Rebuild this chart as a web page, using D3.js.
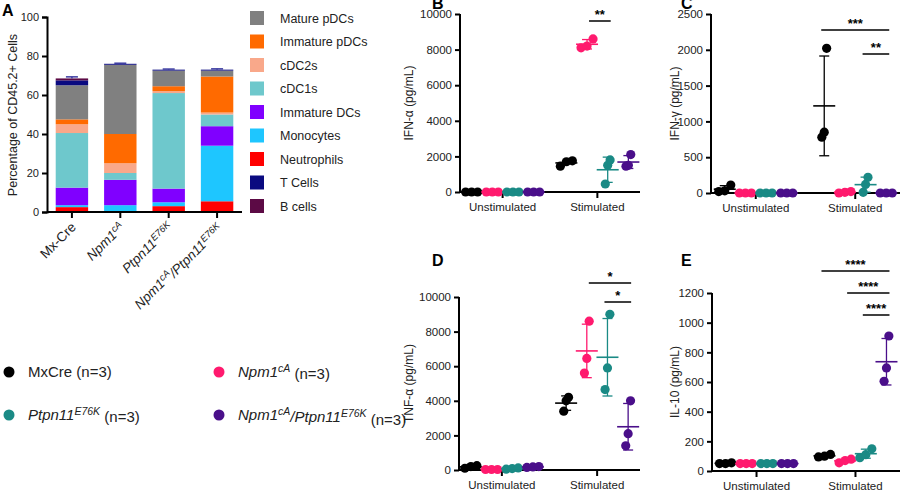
<!DOCTYPE html><html><head><meta charset="utf-8">
<script src="https://cdn.jsdelivr.net/npm/d3@7"></script>
<style>body{margin:0;background:#fff}svg{font-family:Arial,"Liberation Sans",sans-serif}</style></head><body>
<svg id="c" width="900" height="492"></svg>
<script>
// ---------- Data ----------
const groupsA = ["Mx-Cre","Npm1cA","Ptpn11E76K","Npm1cA/Ptpn11E76K"];
// stacking order bottom→top
const cellTypes = ["Neutrophils","Monocytes","Immature DCs","cDC1s","cDC2s","Immature pDCs","Mature pDCs","T Cells","B cells"];
const cellColors = ["#ff0000","#1ec6ff","#8000ff","#6ec8cc","#f9a88a","#ff6a00","#808080","#0a0a80","#5c0a45"];
const legendOrder = ["Mature pDCs","Immature pDCs","cDC2s","cDC1s","Immature DCs","Monocytes","Neutrophils","T Cells","B cells"];
const mxCre   = [2.5,1.0,9.0,28.0,4.5,2.5,17.5,2.5,1.0];
const npm1    = [0.0,3.5,13.0,3.5,5.0,15.0,35.5,0.5,0.0];
const ptpn11  = [3.0,2.0,7.0,49.0,1.0,2.5,8.0,0.5,0.0];
const double_ = [5.5,28.5,10.0,6.0,1.0,18.5,3.0,0.5,0.0];
const errA    = [0.8,0.3,0.3,0.4];
const genos = ["MxCre","Npm1","Ptpn11","Double"];
const genoColors = ["#000000","#ff1a6e","#1a8a85","#4a0f8a"];
const conds = ["Unstimulated","Stimulated"];
const ifnA = {Unstimulated:[[0,0,0],[0,0,0],[0,0,0],[0,0,0]],
              Stimulated:[[1450,1700,1750],[8100,8200,8600],[450,1500,1800],[1450,1500,2100]]};
const ifnG = {Unstimulated:[[20,30,110],[0,0,0],[0,0,0],[0,0,0]],
              Stimulated:[[780,850,2020],[0,10,20],[10,120,220],[0,0,0]]};
const tnfA = {Unstimulated:[[100,200,250],[30,30,30],[50,80,120],[150,180,200]],
              Stimulated:[[3400,4000,4200],[5600,6450,8600],[4650,5900,9000],[1400,2100,4000]]};
const il10 = {Unstimulated:[[50,50,55],[50,50,50],[50,50,50],[50,50,50]],
              Stimulated:[[95,100,112],[55,70,80],[90,110,150],[605,695,910]]};
const ticksB=[0,2000,4000,6000,8000,10000], ticksC=[0,500,1000,1500,2000,2500],
      ticksD=[0,2000,4000,6000,8000,10000], ticksE=[0,200,400,600,800,1000,1200];
const sigB=[[1,2,"**",0]], sigC=[[0,3,"***",0],[2,3,"**",1]],
      sigD=[[1,3,"*",0],[2,3,"*",1]], sigE=[[0,3,"****",0],[1,3,"****",1],[2,3,"****",2]];

const svg=d3.select("#c");
const lbl=(x,y,t)=>svg.append("text").attr("x",x).attr("y",y).attr("font-size",16).attr("font-weight","bold").text(t);

// ---------- Panel A ----------
{
  const x=d3.scaleBand().domain(groupsA).range([47,242]).paddingInner(0.33).paddingOuter(0.18);
  const y=d3.scaleLinear().domain([0,100]).range([212,17]);
  const g=svg.append("g");
  const rows=[mxCre,npm1,ptpn11,double_];
  rows.forEach((r,i)=>{
    let acc=0;
    r.forEach((v,j)=>{
      if(v>0) g.append("rect").attr("x",x(groupsA[i])).attr("width",x.bandwidth())
        .attr("y",y(acc+v)).attr("height",y(acc)-y(acc+v)).attr("fill",cellColors[j]);
      acc+=v;
    });
    const cx=x(groupsA[i])+x.bandwidth()/2;
    g.append("line").attr("x1",cx).attr("x2",cx).attr("y1",y(acc)).attr("y2",y(acc+errA[i])).attr("stroke","#3a3aa0").attr("stroke-width",1.5);
    g.append("line").attr("x1",cx-6).attr("x2",cx+6).attr("y1",y(acc+errA[i])).attr("y2",y(acc+errA[i])).attr("stroke","#3a3aa0").attr("stroke-width",1.5);
  });
  const ya=g.append("g").attr("transform","translate(47,0)").call(d3.axisLeft(y).tickValues([0,20,40,60,80,100]).tickSize(5));
  const xa=g.append("g").attr("transform","translate(0,212)").call(d3.axisBottom(x).tickSize(6).tickFormat(""));
  [ya,xa].forEach(a=>{a.selectAll("path,line").attr("stroke","#000").attr("stroke-width",2);a.selectAll("text").attr("font-size",11).attr("fill","#222");});
  xa.select("path").attr("d","M47,0H242");
  const labs=[["Mx-Cre"],["Npm1","cA"],["Ptpn11","E76K"],["Npm1","cA","/Ptpn11","E76K"]];
  labs.forEach((l,i)=>{
    const cx=x(groupsA[i])+x.bandwidth()/2+5;
    const t=g.append("text").attr("transform",`translate(${cx},228) rotate(-45)`).attr("text-anchor","end").attr("font-size",13.5).attr("fill","#222");
    if(l.length===1) t.text(l[0]);
    else for(let k=0;k<l.length;k+=2){
      t.append("tspan").attr("font-style","italic").attr("dy",k?"0.45em":0).text(l[k]);
      t.append("tspan").attr("font-style","italic").attr("font-size",9.5).attr("dy","-0.45em").text(l[k+1]);
    }
  });
  svg.append("text").attr("transform","translate(17,115) rotate(-90)").attr("text-anchor","middle").attr("font-size",12.5).attr("fill","#222").text("Percentage of  CD45.2+ Cells");
  lbl(2,16,"A");
  legendOrder.forEach((c,i)=>{
    const yy=18+i*23.5;
    svg.append("rect").attr("x",250).attr("y",yy-7).attr("width",14).attr("height",14).attr("fill",cellColors[cellTypes.indexOf(c)]);
    svg.append("text").attr("x",280).attr("y",yy+4.5).attr("font-size",12.5).attr("fill","#222").text(c);
  });
}

// ---------- Scatter panels ----------
function scatter(o){
  const {ax,xr,y0,y1,max,ticks,data,sig,title,letter,lx,ly,tx}=o;
  const y=d3.scaleLinear().domain([0,max]).range([y0,y1]);
  const xb=d3.scaleBand().domain(conds).range([ax,xr]).paddingInner(0.1).paddingOuter(0.0);
  const off=d3.scalePoint().domain(genos).range([-31,31]);
  const g=svg.append("g");
  const cx=c=>xb(c)+xb.bandwidth()/2;
  const ya=g.append("g").attr("transform",`translate(${ax},0)`).call(d3.axisLeft(y).tickValues(ticks).tickSize(5).tickFormat(d3.format("d")));
  const xa=g.append("g").attr("transform",`translate(0,${y0})`).call(d3.axisBottom(xb).tickSize(6));
  [ya,xa].forEach(a=>{a.selectAll("path,line").attr("stroke","#000").attr("stroke-width",2);a.selectAll("text").attr("font-size",11.5).attr("fill","#222");});
  xa.select("path").attr("d",`M${ax},0H${xr}`);
  xa.selectAll("text").attr("dy","0.9em");
  ya.select("path").attr("d",`M0,${y0}V${y1}`);
  conds.forEach(c=>{
    data[c].forEach((vals,gi)=>{
      const px=cx(c)+off(genos[gi]), col=genoColors[gi];
      const m=d3.mean(vals), s=d3.deviation(vals)||0;
      vals.forEach((v,k)=>{
        const dx=[(-6),0,6][k]*(Math.abs(y(vals[0])-y(vals[2]))<10?1:0.4);
        g.append("circle").attr("cx",px+dx).attr("cy",y(v)).attr("r",4.6).attr("fill",col);
      });
      g.append("line").attr("x1",px-11).attr("x2",px+11).attr("y1",y(m)).attr("y2",y(m)).attr("stroke",col).attr("stroke-width",1.6);
      if(y(m-s)-y(m+s)>6){
        g.append("line").attr("x1",px).attr("x2",px).attr("y1",y(Math.max(0,m-s))).attr("y2",y(m+s)).attr("stroke",col).attr("stroke-width",1.3);
        [m-s,m+s].forEach(v=>{ if(v>0) g.append("line").attr("x1",px-5).attr("x2",px+5).attr("y1",y(v)).attr("y2",y(v)).attr("stroke",col).attr("stroke-width",1.3);});
      }
    });
  });
  sig.forEach(([a,b,t,lev])=>{
    const yy=o.sigY+lev*o.sigStep;
    const xs=cx("Stimulated")+off(genos[a])+(a===1?5:0), xe=cx("Stimulated")+off(genos[b]);
    g.append("line").attr("x1",xs-3).attr("x2",xe+3).attr("y1",yy).attr("y2",yy).attr("stroke","#000").attr("stroke-width",1.5);
    g.append("text").attr("x",(xs+xe)/2).attr("y",yy-2).attr("text-anchor","middle").attr("font-size",13).attr("font-weight","bold").text(t);
  });
  svg.append("text").attr("transform",`translate(${tx},${(y0+y1)/2}) rotate(-90)`).attr("text-anchor","middle").attr("font-size",12).attr("fill","#222").text(title);
  lbl(lx,ly,letter);
}
scatter({ax:460,xr:640,y0:192,y1:14,max:10000,ticks:ticksB,data:ifnA,sig:sigB,title:"IFN-α (pg/mL)",letter:"B",lx:432,ly:9,tx:413,sigY:21,sigStep:0});
scatter({ax:711,xr:900,y0:193,y1:14,max:2500,ticks:ticksC,data:ifnG,sig:sigC,title:"IFN-γ (pg/mL)",letter:"C",lx:681,ly:9,tx:679,sigY:30,sigStep:24});
scatter({ax:459,xr:640,y0:470,y1:297,max:10000,ticks:ticksD,data:tnfA,sig:sigD,title:"TNF-α (pg/mL)",letter:"D",lx:432,ly:266,tx:413,sigY:283,sigStep:19});
scatter({ax:712,xr:900,y0:471,y1:293,max:1200,ticks:ticksE,data:il10,sig:sigE,title:"IL-10 (pg/mL)",letter:"E",lx:681,ly:266,tx:679,sigY:271,sigStep:22});

// ---------- Genotype legend ----------
const legItems=[[9,372,0,[["MxCre (n=3)",0]]],[219,372,1,[["Npm1",1],["cA",2],[" (n=3)",0]]],
  [9,415,2,[["Ptpn11",1],["E76K",2],[" (n=3)",0]]],[219,415,3,[["Npm1",1],["cA",2],["/",1],["Ptpn11",1],["E76K",2],[" (n=3)",0]]]];
legItems.forEach(([x,yy,gi,parts])=>{
  svg.append("circle").attr("cx",x).attr("cy",yy).attr("r",5.5).attr("fill",genoColors[gi]);
  const t=svg.append("text").attr("x",x+19).attr("y",yy+5).attr("font-size",15).attr("fill","#222");
  let sup=false;
  parts.forEach(([s,k])=>{
    const ts=t.append("tspan").text(s);
    if(k>=1) ts.attr("font-style","italic");
    if(k===2){ts.attr("font-size",10.5).attr("dy",sup?0:"-0.5em");sup=true;}
    else if(sup){ts.attr("dy","0.5em");sup=false;}
  });
});
</script></body></html>
